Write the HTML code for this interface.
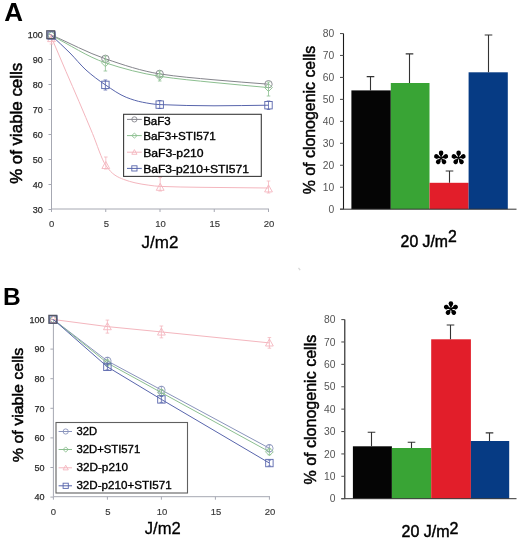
<!DOCTYPE html>
<html><head><meta charset="utf-8"><style>
html,body{margin:0;padding:0;background:#fff;}
svg{display:block;font-family:"Liberation Sans", sans-serif;will-change:transform;filter:blur(0.4px);}
</style></head><body>
<svg width="520" height="541" viewBox="0 0 520 541">
<rect width="520" height="541" fill="#fff"/>
<path d="M51.5,34.5V209H269" stroke="#a6a8b2" stroke-width="1" fill="none"/>
<path d="M48.5,34.50H51.5" stroke="#a6a8b2" stroke-width="1"/>
<text x="42.70" y="37.70" font-size="9" fill="#2a2a2a" text-anchor="end" stroke="#2a2a2a" stroke-width="0.25">100</text>
<path d="M48.5,59.50H51.5" stroke="#a6a8b2" stroke-width="1"/>
<text x="42.70" y="62.70" font-size="9" fill="#2a2a2a" text-anchor="end" stroke="#2a2a2a" stroke-width="0.25">90</text>
<path d="M48.5,84.50H51.5" stroke="#a6a8b2" stroke-width="1"/>
<text x="42.70" y="87.70" font-size="9" fill="#2a2a2a" text-anchor="end" stroke="#2a2a2a" stroke-width="0.25">80</text>
<path d="M48.5,109.50H51.5" stroke="#a6a8b2" stroke-width="1"/>
<text x="42.70" y="112.70" font-size="9" fill="#2a2a2a" text-anchor="end" stroke="#2a2a2a" stroke-width="0.25">70</text>
<path d="M48.5,134.50H51.5" stroke="#a6a8b2" stroke-width="1"/>
<text x="42.70" y="137.70" font-size="9" fill="#2a2a2a" text-anchor="end" stroke="#2a2a2a" stroke-width="0.25">60</text>
<path d="M48.5,159.50H51.5" stroke="#a6a8b2" stroke-width="1"/>
<text x="42.70" y="162.70" font-size="9" fill="#2a2a2a" text-anchor="end" stroke="#2a2a2a" stroke-width="0.25">50</text>
<path d="M48.5,184.50H51.5" stroke="#a6a8b2" stroke-width="1"/>
<text x="42.70" y="187.70" font-size="9" fill="#2a2a2a" text-anchor="end" stroke="#2a2a2a" stroke-width="0.25">40</text>
<path d="M48.5,209.50H51.5" stroke="#a6a8b2" stroke-width="1"/>
<text x="42.70" y="212.70" font-size="9" fill="#2a2a2a" text-anchor="end" stroke="#2a2a2a" stroke-width="0.25">30</text>
<path d="M51.50,209V212" stroke="#a6a8b2" stroke-width="1"/>
<text x="51.60" y="226.7" font-size="9.5" fill="#383838" text-anchor="middle" stroke="#383838" stroke-width="0.15">0</text>
<path d="M105.75,209V212" stroke="#a6a8b2" stroke-width="1"/>
<text x="106.35" y="226.7" font-size="9.5" fill="#383838" text-anchor="middle" stroke="#383838" stroke-width="0.15">5</text>
<path d="M160.00,209V212" stroke="#a6a8b2" stroke-width="1"/>
<text x="160.60" y="226.7" font-size="9.5" fill="#383838" text-anchor="middle" stroke="#383838" stroke-width="0.15">10</text>
<path d="M214.25,209V212" stroke="#a6a8b2" stroke-width="1"/>
<text x="214.85" y="226.7" font-size="9.5" fill="#383838" text-anchor="middle" stroke="#383838" stroke-width="0.15">15</text>
<path d="M268.50,209V212" stroke="#a6a8b2" stroke-width="1"/>
<text x="269.10" y="226.7" font-size="9.5" fill="#383838" text-anchor="middle" stroke="#383838" stroke-width="0.15">20</text>
<path d="M53.4,319.5V496.7H270" stroke="#a6a8b2" stroke-width="1" fill="none"/>
<path d="M50.4,319.50H53.4" stroke="#a6a8b2" stroke-width="1"/>
<text x="44.60" y="322.70" font-size="9" fill="#2a2a2a" text-anchor="end" stroke="#2a2a2a" stroke-width="0.25">100</text>
<path d="M50.4,349.10H53.4" stroke="#a6a8b2" stroke-width="1"/>
<text x="44.60" y="352.30" font-size="9" fill="#2a2a2a" text-anchor="end" stroke="#2a2a2a" stroke-width="0.25">90</text>
<path d="M50.4,378.70H53.4" stroke="#a6a8b2" stroke-width="1"/>
<text x="44.60" y="381.90" font-size="9" fill="#2a2a2a" text-anchor="end" stroke="#2a2a2a" stroke-width="0.25">80</text>
<path d="M50.4,408.30H53.4" stroke="#a6a8b2" stroke-width="1"/>
<text x="44.60" y="411.50" font-size="9" fill="#2a2a2a" text-anchor="end" stroke="#2a2a2a" stroke-width="0.25">70</text>
<path d="M50.4,437.90H53.4" stroke="#a6a8b2" stroke-width="1"/>
<text x="44.60" y="441.10" font-size="9" fill="#2a2a2a" text-anchor="end" stroke="#2a2a2a" stroke-width="0.25">60</text>
<path d="M50.4,467.50H53.4" stroke="#a6a8b2" stroke-width="1"/>
<text x="44.60" y="470.70" font-size="9" fill="#2a2a2a" text-anchor="end" stroke="#2a2a2a" stroke-width="0.25">50</text>
<path d="M50.4,497.10H53.4" stroke="#a6a8b2" stroke-width="1"/>
<text x="44.60" y="500.30" font-size="9" fill="#2a2a2a" text-anchor="end" stroke="#2a2a2a" stroke-width="0.25">40</text>
<path d="M53.40,496.7V499.7" stroke="#a6a8b2" stroke-width="1"/>
<text x="53.50" y="514.7" font-size="9.5" fill="#383838" text-anchor="middle" stroke="#383838" stroke-width="0.15">0</text>
<path d="M107.40,496.7V499.7" stroke="#a6a8b2" stroke-width="1"/>
<text x="108.00" y="514.7" font-size="9.5" fill="#383838" text-anchor="middle" stroke="#383838" stroke-width="0.15">5</text>
<path d="M161.40,496.7V499.7" stroke="#a6a8b2" stroke-width="1"/>
<text x="162.00" y="514.7" font-size="9.5" fill="#383838" text-anchor="middle" stroke="#383838" stroke-width="0.15">10</text>
<path d="M215.40,496.7V499.7" stroke="#a6a8b2" stroke-width="1"/>
<text x="216.00" y="514.7" font-size="9.5" fill="#383838" text-anchor="middle" stroke="#383838" stroke-width="0.15">15</text>
<path d="M269.40,496.7V499.7" stroke="#a6a8b2" stroke-width="1"/>
<text x="270.00" y="514.7" font-size="9.5" fill="#383838" text-anchor="middle" stroke="#383838" stroke-width="0.15">20</text>
<path d="M51.50,35.00 C69.47,42.93 87.43,52.67 105.40,58.80 C123.50,64.98 141.60,71.07 159.70,73.90 C177.80,76.73 195.90,78.12 214.00,79.80 C232.17,81.48 250.33,82.73 268.50,84.20" fill="none" stroke="#85858c" stroke-width="1"/>
<circle cx="51.50" cy="35.00" r="3.70" fill="none" stroke="#85858c" stroke-width="0.9"/>
<circle cx="105.40" cy="58.80" r="3.70" fill="none" stroke="#85858c" stroke-width="0.9"/>
<circle cx="159.70" cy="73.90" r="3.70" fill="none" stroke="#85858c" stroke-width="0.9"/>
<circle cx="268.50" cy="84.20" r="3.70" fill="none" stroke="#85858c" stroke-width="0.9"/>
<path d="M51.50,35.50 C69.47,44.60 87.43,56.81 105.40,62.80 C123.50,68.84 141.60,73.47 159.70,76.30 C177.80,79.13 195.90,80.64 214.00,82.50 C232.17,84.37 250.33,85.90 268.50,87.60" fill="none" stroke="#8cbf90" stroke-width="1"/>
<path d="M105.40,56.00V71.00M103.60,56.00H107.20M103.60,71.00H107.20" stroke="#8cbf90" stroke-width="0.8" fill="none"/>
<path d="M159.70,71.00V81.00M157.90,71.00H161.50M157.90,81.00H161.50" stroke="#8cbf90" stroke-width="0.8" fill="none"/>
<path d="M268.50,82.00V96.00M266.70,82.00H270.30M266.70,96.00H270.30" stroke="#8cbf90" stroke-width="0.8" fill="none"/>
<path d="M51.50,31.60 L55.40,35.50 L51.50,39.40 L47.60,35.50Z" fill="none" stroke="#8cbf90" stroke-width="0.9"/>
<path d="M105.40,58.90 L109.30,62.80 L105.40,66.70 L101.50,62.80Z" fill="none" stroke="#8cbf90" stroke-width="0.9"/>
<path d="M159.70,72.40 L163.60,76.30 L159.70,80.20 L155.80,76.30Z" fill="none" stroke="#8cbf90" stroke-width="0.9"/>
<path d="M268.50,83.70 L272.40,87.60 L268.50,91.50 L264.60,87.60Z" fill="none" stroke="#8cbf90" stroke-width="0.9"/>
<path d="M51.50,37.50 C56.33,48.83 61.17,60.26 66.00,71.50 C70.33,81.58 74.67,91.37 79.00,101.50 C83.50,112.02 88.00,122.77 92.50,133.50 C96.93,144.07 101.37,159.01 105.80,165.40 C108.87,169.82 111.93,173.15 115.00,175.20 C117.87,177.11 120.73,178.33 123.60,179.40 C127.40,180.82 131.20,181.96 135.00,182.80 C139.60,183.82 144.20,184.60 148.80,185.20 C152.60,185.69 156.40,186.24 160.20,186.40 C173.47,186.96 186.73,187.11 200.00,187.30 C222.83,187.63 245.67,187.77 268.50,188.00" fill="none" stroke="#f4b6be" stroke-width="1"/>
<path d="M51.50,36.00V44.00M49.70,36.00H53.30M49.70,44.00H53.30" stroke="#f4b6be" stroke-width="0.8" fill="none"/>
<path d="M105.80,157.00V169.00M104.00,157.00H107.60M104.00,169.00H107.60" stroke="#f4b6be" stroke-width="0.8" fill="none"/>
<path d="M160.20,177.50V191.00M158.40,177.50H162.00M158.40,191.00H162.00" stroke="#f4b6be" stroke-width="0.8" fill="none"/>
<path d="M268.50,181.00V193.00M266.70,181.00H270.30M266.70,193.00H270.30" stroke="#f4b6be" stroke-width="0.8" fill="none"/>
<path d="M51.50,34.60 L55.40,41.62 L47.60,41.62Z" fill="none" stroke="#f4b6be" stroke-width="0.9"/>
<path d="M105.80,161.50 L109.70,168.52 L101.90,168.52Z" fill="none" stroke="#f4b6be" stroke-width="0.9"/>
<path d="M160.20,183.30 L164.10,190.32 L156.30,190.32Z" fill="none" stroke="#f4b6be" stroke-width="0.9"/>
<path d="M268.50,184.90 L272.40,191.92 L264.60,191.92Z" fill="none" stroke="#f4b6be" stroke-width="0.9"/>
<path d="M51.50,35.50 C57.67,41.33 63.83,46.82 70.00,53.00 C75.33,58.35 80.67,65.22 86.00,70.00 C92.47,75.80 98.93,80.55 105.40,84.90 C112.33,89.56 119.27,94.55 126.20,97.30 C131.60,99.44 137.00,101.17 142.40,102.20 C148.17,103.30 153.93,104.35 159.70,104.60 C177.80,105.39 195.90,105.80 214.00,105.80 C232.17,105.80 250.33,105.40 268.50,105.20" fill="none" stroke="#5865ac" stroke-width="1"/>
<path d="M105.40,80.00V90.00M103.60,80.00H107.20M103.60,90.00H107.20" stroke="#5865ac" stroke-width="0.8" fill="none"/>
<path d="M159.70,100.50V108.50M157.90,100.50H161.50M157.90,108.50H161.50" stroke="#5865ac" stroke-width="0.8" fill="none"/>
<path d="M268.50,101.00V109.50M266.70,101.00H270.30M266.70,109.50H270.30" stroke="#5865ac" stroke-width="0.8" fill="none"/>
<rect x="47.80" y="31.80" width="7.40" height="7.40" fill="none" stroke="#5865ac" stroke-width="0.9"/>
<rect x="101.70" y="81.20" width="7.40" height="7.40" fill="none" stroke="#5865ac" stroke-width="0.9"/>
<rect x="156.00" y="100.90" width="7.40" height="7.40" fill="none" stroke="#5865ac" stroke-width="0.9"/>
<rect x="264.80" y="101.50" width="7.40" height="7.40" fill="none" stroke="#5865ac" stroke-width="0.9"/>
<path d="M53.40,319.50 L107.40,360.94 L161.40,389.95 L269.40,448.26" fill="none" stroke="#8a94bc" stroke-width="1"/>
<path d="M107.40,357.39V364.49M105.60,357.39H109.20M105.60,364.49H109.20" stroke="#8a94bc" stroke-width="0.8" fill="none"/>
<path d="M161.40,386.40V393.50M159.60,386.40H163.20M159.60,393.50H163.20" stroke="#8a94bc" stroke-width="0.8" fill="none"/>
<path d="M269.40,444.71V451.81M267.60,444.71H271.20M267.60,451.81H271.20" stroke="#8a94bc" stroke-width="0.8" fill="none"/>
<circle cx="53.40" cy="319.50" r="3.70" fill="none" stroke="#8a94bc" stroke-width="0.9"/>
<circle cx="107.40" cy="360.94" r="3.70" fill="none" stroke="#8a94bc" stroke-width="0.9"/>
<circle cx="161.40" cy="389.95" r="3.70" fill="none" stroke="#8a94bc" stroke-width="0.9"/>
<circle cx="269.40" cy="448.26" r="3.70" fill="none" stroke="#8a94bc" stroke-width="0.9"/>
<path d="M53.40,319.50 L107.40,363.01 L161.40,392.61 L269.40,451.81" fill="none" stroke="#8cbf90" stroke-width="1"/>
<path d="M107.40,360.05V365.97M105.60,360.05H109.20M105.60,365.97H109.20" stroke="#8cbf90" stroke-width="0.8" fill="none"/>
<path d="M161.40,389.65V395.57M159.60,389.65H163.20M159.60,395.57H163.20" stroke="#8cbf90" stroke-width="0.8" fill="none"/>
<path d="M269.40,448.85V454.77M267.60,448.85H271.20M267.60,454.77H271.20" stroke="#8cbf90" stroke-width="0.8" fill="none"/>
<path d="M53.40,315.60 L57.30,319.50 L53.40,323.40 L49.50,319.50Z" fill="none" stroke="#8cbf90" stroke-width="0.9"/>
<path d="M107.40,359.11 L111.30,363.01 L107.40,366.91 L103.50,363.01Z" fill="none" stroke="#8cbf90" stroke-width="0.9"/>
<path d="M161.40,388.71 L165.30,392.61 L161.40,396.51 L157.50,392.61Z" fill="none" stroke="#8cbf90" stroke-width="0.9"/>
<path d="M269.40,447.91 L273.30,451.81 L269.40,455.71 L265.50,451.81Z" fill="none" stroke="#8cbf90" stroke-width="0.9"/>
<path d="M53.40,319.50 L107.40,326.60 L161.40,331.93 L269.40,342.88" fill="none" stroke="#f4b6be" stroke-width="1"/>
<path d="M107.40,320.09V333.12M105.60,320.09H109.20M105.60,333.12H109.20" stroke="#f4b6be" stroke-width="0.8" fill="none"/>
<path d="M161.40,326.01V337.85M159.60,326.01H163.20M159.60,337.85H163.20" stroke="#f4b6be" stroke-width="0.8" fill="none"/>
<path d="M269.40,337.56V348.21M267.60,337.56H271.20M267.60,348.21H271.20" stroke="#f4b6be" stroke-width="0.8" fill="none"/>
<path d="M53.40,315.60 L57.30,322.62 L49.50,322.62Z" fill="none" stroke="#f4b6be" stroke-width="0.9"/>
<path d="M107.40,322.70 L111.30,329.72 L103.50,329.72Z" fill="none" stroke="#f4b6be" stroke-width="0.9"/>
<path d="M161.40,328.03 L165.30,335.05 L157.50,335.05Z" fill="none" stroke="#f4b6be" stroke-width="0.9"/>
<path d="M269.40,338.98 L273.30,346.00 L265.50,346.00Z" fill="none" stroke="#f4b6be" stroke-width="0.9"/>
<path d="M53.40,319.50 L107.40,366.86 L161.40,399.42 L269.40,463.06" fill="none" stroke="#5865ac" stroke-width="1"/>
<path d="M107.40,363.90V369.82M105.60,363.90H109.20M105.60,369.82H109.20" stroke="#5865ac" stroke-width="0.8" fill="none"/>
<path d="M161.40,396.46V402.38M159.60,396.46H163.20M159.60,402.38H163.20" stroke="#5865ac" stroke-width="0.8" fill="none"/>
<path d="M269.40,460.10V466.02M267.60,460.10H271.20M267.60,466.02H271.20" stroke="#5865ac" stroke-width="0.8" fill="none"/>
<rect x="49.70" y="315.80" width="7.40" height="7.40" fill="none" stroke="#5865ac" stroke-width="0.9"/>
<rect x="103.70" y="363.16" width="7.40" height="7.40" fill="none" stroke="#5865ac" stroke-width="0.9"/>
<rect x="157.70" y="395.72" width="7.40" height="7.40" fill="none" stroke="#5865ac" stroke-width="0.9"/>
<rect x="265.70" y="459.36" width="7.40" height="7.40" fill="none" stroke="#5865ac" stroke-width="0.9"/>
<rect x="46.8" y="30.8" width="7.8" height="7.8" fill="none" stroke="#545866" stroke-width="1.3"/>
<rect x="48.9" y="315.4" width="7.8" height="7.8" fill="none" stroke="#545866" stroke-width="1.3"/>
<path d="M298.5,267.8 L300.2,270.2" stroke="#d8d8d8" stroke-width="1.3"/>
<rect x="123.6" y="114.3" width="137.70000000000002" height="62.10000000000001" fill="#fff" stroke="#3a3a3a" stroke-width="1.1"/>
<path d="M127,119.4H141.8" stroke="#85858c" stroke-width="1"/>
<circle cx="134.40" cy="119.40" r="2.60" fill="none" stroke="#85858c" stroke-width="0.9"/>
<text x="143.2" y="124.6" font-size="11" fill="#000" textLength="27.5" lengthAdjust="spacingAndGlyphs" stroke="#000" stroke-width="0.35">BaF3</text>
<path d="M127,135.6H141.8" stroke="#8cbf90" stroke-width="1"/>
<path d="M134.40,133.00 L137.00,135.60 L134.40,138.20 L131.80,135.60Z" fill="none" stroke="#8cbf90" stroke-width="0.9"/>
<text x="143.2" y="140.3" font-size="11" fill="#000" textLength="72.5" lengthAdjust="spacingAndGlyphs" stroke="#000" stroke-width="0.35">BaF3+STI571</text>
<path d="M127,152.2H141.8" stroke="#f4b6be" stroke-width="1"/>
<path d="M134.40,149.60 L137.00,154.28 L131.80,154.28Z" fill="none" stroke="#f4b6be" stroke-width="0.9"/>
<text x="143.2" y="157" font-size="11" fill="#000" textLength="60.3" lengthAdjust="spacingAndGlyphs" stroke="#000" stroke-width="0.35">BaF3-p210</text>
<path d="M127,168.4H141.8" stroke="#5865ac" stroke-width="1"/>
<rect x="131.80" y="165.80" width="5.20" height="5.20" fill="none" stroke="#5865ac" stroke-width="0.9"/>
<text x="143.2" y="173.4" font-size="11" fill="#000" textLength="105.8" lengthAdjust="spacingAndGlyphs" stroke="#000" stroke-width="0.35">BaF3-p210+STI571</text>
<rect x="56" y="422.5" width="131.5" height="70.5" fill="#fff" stroke="#606060" stroke-width="1.1"/>
<path d="M58.6,431.5H72" stroke="#8a94bc" stroke-width="1"/>
<circle cx="65.70" cy="431.50" r="2.60" fill="none" stroke="#8a94bc" stroke-width="0.9"/>
<text x="76.4" y="435.2" font-size="11" fill="#000" textLength="20.6" lengthAdjust="spacingAndGlyphs" stroke="#000" stroke-width="0.35">32D</text>
<path d="M58.6,449.5H72" stroke="#8cbf90" stroke-width="1"/>
<path d="M65.70,446.90 L68.30,449.50 L65.70,452.10 L63.10,449.50Z" fill="none" stroke="#8cbf90" stroke-width="0.9"/>
<text x="76.4" y="453.2" font-size="11" fill="#000" textLength="63.8" lengthAdjust="spacingAndGlyphs" stroke="#000" stroke-width="0.35">32D+STI571</text>
<path d="M58.6,467.8H72" stroke="#f4b6be" stroke-width="1"/>
<path d="M65.70,465.20 L68.30,469.88 L63.10,469.88Z" fill="none" stroke="#f4b6be" stroke-width="0.9"/>
<text x="76.4" y="471.2" font-size="11" fill="#000" textLength="51.6" lengthAdjust="spacingAndGlyphs" stroke="#000" stroke-width="0.35">32D-p210</text>
<path d="M58.6,485.8H72" stroke="#5865ac" stroke-width="1"/>
<rect x="63.10" y="483.20" width="5.20" height="5.20" fill="none" stroke="#5865ac" stroke-width="0.9"/>
<text x="76.4" y="489.4" font-size="11" fill="#000" textLength="95.2" lengthAdjust="spacingAndGlyphs" stroke="#000" stroke-width="0.35">32D-p210+STI571</text>
<rect x="351.4" y="90.4" width="39.40" height="118.80" fill="#050505"/>
<rect x="390.8" y="83" width="38.70" height="126.20" fill="#39a435"/>
<rect x="429.5" y="182.8" width="39.10" height="26.40" fill="#e21e2a"/>
<rect x="468.6" y="72.3" width="39.20" height="136.90" fill="#063b84"/>
<path d="M370.5,76.6V90.4M366.7,76.6H374.3" stroke="#333" stroke-width="1.1" fill="none"/>
<path d="M409.5,53.9V83M405.7,53.9H413.3" stroke="#333" stroke-width="1.1" fill="none"/>
<path d="M449.5,171V182.8M445.7,171H453.3" stroke="#333" stroke-width="1.1" fill="none"/>
<path d="M488.5,35V72.3M484.7,35H492.3" stroke="#333" stroke-width="1.1" fill="none"/>
<path d="M343.5,33.52V209.2" stroke="#1a1a1a" stroke-width="1.1"/>
<path d="M340.0,209.2H516.5" stroke="#333" stroke-width="1"/>
<path d="M340.0,209.20H343.5" stroke="#555" stroke-width="1.1"/>
<text x="334.20" y="212.80" font-size="10.3" fill="#555" text-anchor="end">0</text>
<path d="M340.0,187.24H343.5" stroke="#555" stroke-width="1.1"/>
<text x="334.20" y="190.84" font-size="10.3" fill="#555" text-anchor="end">10</text>
<path d="M340.0,165.28H343.5" stroke="#555" stroke-width="1.1"/>
<text x="334.20" y="168.88" font-size="10.3" fill="#555" text-anchor="end">20</text>
<path d="M340.0,143.32H343.5" stroke="#555" stroke-width="1.1"/>
<text x="334.20" y="146.92" font-size="10.3" fill="#555" text-anchor="end">30</text>
<path d="M340.0,121.36H343.5" stroke="#555" stroke-width="1.1"/>
<text x="334.20" y="124.96" font-size="10.3" fill="#555" text-anchor="end">40</text>
<path d="M340.0,99.40H343.5" stroke="#555" stroke-width="1.1"/>
<text x="334.20" y="103.00" font-size="10.3" fill="#555" text-anchor="end">50</text>
<path d="M340.0,77.44H343.5" stroke="#555" stroke-width="1.1"/>
<text x="334.20" y="81.04" font-size="10.3" fill="#555" text-anchor="end">60</text>
<path d="M340.0,55.48H343.5" stroke="#555" stroke-width="1.1"/>
<text x="334.20" y="59.08" font-size="10.3" fill="#555" text-anchor="end">70</text>
<path d="M340.0,33.52H343.5" stroke="#555" stroke-width="1.1"/>
<text x="334.20" y="37.12" font-size="10.3" fill="#555" text-anchor="end">80</text>
<rect x="352.9" y="446.3" width="39.00" height="52.40" fill="#050505"/>
<rect x="391.9" y="448" width="39.30" height="50.70" fill="#39a435"/>
<rect x="431.2" y="339.3" width="39.70" height="159.40" fill="#e21e2a"/>
<rect x="470.9" y="441" width="38.30" height="57.70" fill="#063b84"/>
<path d="M371.5,432.3V446.3M367.7,432.3H375.3" stroke="#333" stroke-width="1.1" fill="none"/>
<path d="M411.5,442.3V448M407.7,442.3H415.3" stroke="#333" stroke-width="1.1" fill="none"/>
<path d="M450.5,325V339.3M446.7,325H454.3" stroke="#333" stroke-width="1.1" fill="none"/>
<path d="M489.5,432.9V441M485.7,432.9H493.3" stroke="#333" stroke-width="1.1" fill="none"/>
<path d="M344.8,319.58V498.7" stroke="#1a1a1a" stroke-width="1.1"/>
<path d="M341.3,498.7H516.5" stroke="#333" stroke-width="1"/>
<path d="M341.3,498.70H344.8" stroke="#555" stroke-width="1.1"/>
<text x="335.50" y="502.30" font-size="10.3" fill="#555" text-anchor="end">0</text>
<path d="M341.3,476.31H344.8" stroke="#555" stroke-width="1.1"/>
<text x="335.50" y="479.91" font-size="10.3" fill="#555" text-anchor="end">10</text>
<path d="M341.3,453.92H344.8" stroke="#555" stroke-width="1.1"/>
<text x="335.50" y="457.52" font-size="10.3" fill="#555" text-anchor="end">20</text>
<path d="M341.3,431.53H344.8" stroke="#555" stroke-width="1.1"/>
<text x="335.50" y="435.13" font-size="10.3" fill="#555" text-anchor="end">30</text>
<path d="M341.3,409.14H344.8" stroke="#555" stroke-width="1.1"/>
<text x="335.50" y="412.74" font-size="10.3" fill="#555" text-anchor="end">40</text>
<path d="M341.3,386.75H344.8" stroke="#555" stroke-width="1.1"/>
<text x="335.50" y="390.35" font-size="10.3" fill="#555" text-anchor="end">50</text>
<path d="M341.3,364.36H344.8" stroke="#555" stroke-width="1.1"/>
<text x="335.50" y="367.96" font-size="10.3" fill="#555" text-anchor="end">60</text>
<path d="M341.3,341.97H344.8" stroke="#555" stroke-width="1.1"/>
<text x="335.50" y="345.57" font-size="10.3" fill="#555" text-anchor="end">70</text>
<path d="M341.3,319.58H344.8" stroke="#555" stroke-width="1.1"/>
<text x="335.50" y="323.18" font-size="10.3" fill="#555" text-anchor="end">80</text>
<g transform="translate(441.10,157.90)" fill="#000">
<g transform="rotate(0)"><circle cx="0" cy="-5.0" r="2.3"/><path d="M-0.35,0 C-0.6,-1.2 -1.6,-3.40 -1.95,-4.40 L1.95,-4.40 C1.6,-3.40 0.6,-1.2 0.35,0Z"/></g>
<g transform="rotate(72)"><circle cx="0" cy="-5.0" r="2.3"/><path d="M-0.35,0 C-0.6,-1.2 -1.6,-3.40 -1.95,-4.40 L1.95,-4.40 C1.6,-3.40 0.6,-1.2 0.35,0Z"/></g>
<g transform="rotate(144)"><circle cx="0" cy="-5.0" r="2.3"/><path d="M-0.35,0 C-0.6,-1.2 -1.6,-3.40 -1.95,-4.40 L1.95,-4.40 C1.6,-3.40 0.6,-1.2 0.35,0Z"/></g>
<g transform="rotate(216)"><circle cx="0" cy="-5.0" r="2.3"/><path d="M-0.35,0 C-0.6,-1.2 -1.6,-3.40 -1.95,-4.40 L1.95,-4.40 C1.6,-3.40 0.6,-1.2 0.35,0Z"/></g>
<g transform="rotate(288)"><circle cx="0" cy="-5.0" r="2.3"/><path d="M-0.35,0 C-0.6,-1.2 -1.6,-3.40 -1.95,-4.40 L1.95,-4.40 C1.6,-3.40 0.6,-1.2 0.35,0Z"/></g>
</g>
<g transform="translate(458.60,157.90)" fill="#000">
<g transform="rotate(0)"><circle cx="0" cy="-5.0" r="2.3"/><path d="M-0.35,0 C-0.6,-1.2 -1.6,-3.40 -1.95,-4.40 L1.95,-4.40 C1.6,-3.40 0.6,-1.2 0.35,0Z"/></g>
<g transform="rotate(72)"><circle cx="0" cy="-5.0" r="2.3"/><path d="M-0.35,0 C-0.6,-1.2 -1.6,-3.40 -1.95,-4.40 L1.95,-4.40 C1.6,-3.40 0.6,-1.2 0.35,0Z"/></g>
<g transform="rotate(144)"><circle cx="0" cy="-5.0" r="2.3"/><path d="M-0.35,0 C-0.6,-1.2 -1.6,-3.40 -1.95,-4.40 L1.95,-4.40 C1.6,-3.40 0.6,-1.2 0.35,0Z"/></g>
<g transform="rotate(216)"><circle cx="0" cy="-5.0" r="2.3"/><path d="M-0.35,0 C-0.6,-1.2 -1.6,-3.40 -1.95,-4.40 L1.95,-4.40 C1.6,-3.40 0.6,-1.2 0.35,0Z"/></g>
<g transform="rotate(288)"><circle cx="0" cy="-5.0" r="2.3"/><path d="M-0.35,0 C-0.6,-1.2 -1.6,-3.40 -1.95,-4.40 L1.95,-4.40 C1.6,-3.40 0.6,-1.2 0.35,0Z"/></g>
</g>
<g transform="translate(450.90,308.60)" fill="#000">
<g transform="rotate(0)"><circle cx="0" cy="-5.0" r="2.3"/><path d="M-0.35,0 C-0.6,-1.2 -1.6,-3.40 -1.95,-4.40 L1.95,-4.40 C1.6,-3.40 0.6,-1.2 0.35,0Z"/></g>
<g transform="rotate(72)"><circle cx="0" cy="-5.0" r="2.3"/><path d="M-0.35,0 C-0.6,-1.2 -1.6,-3.40 -1.95,-4.40 L1.95,-4.40 C1.6,-3.40 0.6,-1.2 0.35,0Z"/></g>
<g transform="rotate(144)"><circle cx="0" cy="-5.0" r="2.3"/><path d="M-0.35,0 C-0.6,-1.2 -1.6,-3.40 -1.95,-4.40 L1.95,-4.40 C1.6,-3.40 0.6,-1.2 0.35,0Z"/></g>
<g transform="rotate(216)"><circle cx="0" cy="-5.0" r="2.3"/><path d="M-0.35,0 C-0.6,-1.2 -1.6,-3.40 -1.95,-4.40 L1.95,-4.40 C1.6,-3.40 0.6,-1.2 0.35,0Z"/></g>
<g transform="rotate(288)"><circle cx="0" cy="-5.0" r="2.3"/><path d="M-0.35,0 C-0.6,-1.2 -1.6,-3.40 -1.95,-4.40 L1.95,-4.40 C1.6,-3.40 0.6,-1.2 0.35,0Z"/></g>
</g>
<text x="4.2" y="21.3" font-size="26" fill="#000" font-weight="bold">A</text>
<text x="3.0" y="305.1" font-size="24.5" fill="#000" font-weight="bold">B</text>
<text transform="translate(21.7,123.35) rotate(-90)" text-anchor="middle" font-size="16.2" stroke="#000" stroke-width="0.5" textLength="121" lengthAdjust="spacingAndGlyphs">% of viable cells</text>
<text transform="translate(23.3,405) rotate(-90)" text-anchor="middle" font-size="15.5" stroke="#000" stroke-width="0.5" textLength="114.4" lengthAdjust="spacingAndGlyphs">% of viable cells</text>
<text transform="translate(314.6,120.05) rotate(-90)" text-anchor="middle" font-size="15.8" stroke="#000" stroke-width="0.45" textLength="148.5" lengthAdjust="spacingAndGlyphs">% of clonogenic cells</text>
<text transform="translate(315.5,409.65) rotate(-90)" text-anchor="middle" font-size="15.8" stroke="#000" stroke-width="0.45" textLength="149.8" lengthAdjust="spacingAndGlyphs">% of clonogenic cells</text>
<text x="160" y="248" font-size="17" fill="#000" text-anchor="middle" stroke="#000" stroke-width="0.3">J/m2</text>
<text x="162.8" y="534" font-size="16.6" fill="#000" text-anchor="middle" stroke="#000" stroke-width="0.3">J/m2</text>
<text x="400.6" y="247.2" font-size="15.8" stroke="#000" stroke-width="0.45">20 J/m<tspan dy="-5.2">2</tspan></text>
<text x="401.6" y="536.9" font-size="16" stroke="#000" stroke-width="0.45">20 J/m<tspan dy="-3.1">2</tspan></text>
</svg>
</body></html>
